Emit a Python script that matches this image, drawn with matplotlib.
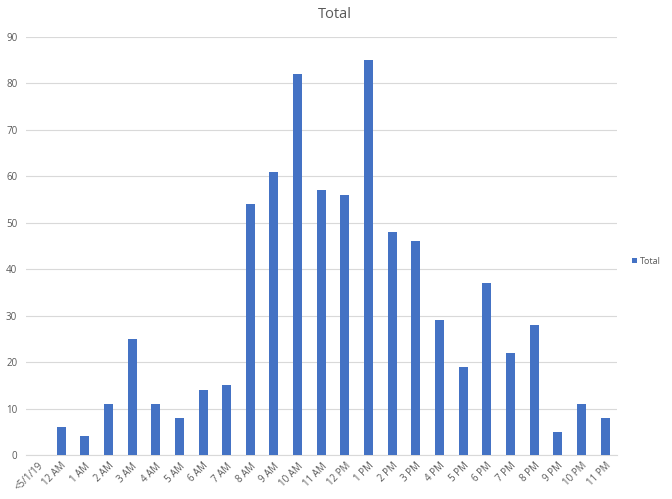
import matplotlib
matplotlib.use("Agg")
import matplotlib.pyplot as plt
import numpy as np

categories = ["<5/1/19", "12 AM", "1 AM", "2 AM", "3 AM", "4 AM", "5 AM", "6 AM", "7 AM",
              "8 AM", "9 AM", "10 AM", "11 AM", "12 PM", "1 PM", "2 PM", "3 PM", "4 PM",
              "5 PM", "6 PM", "7 PM", "8 PM", "9 PM", "10 PM", "11 PM"]
totals = [0, 6, 4, 11, 25, 11, 8, 14, 15, 54, 61, 82, 57, 56, 85, 48, 46, 29,
          19, 37, 22, 28, 5, 11, 8]

plt.rcParams['font.family'] = ['Open Sans', 'DejaVu Sans']
fig = plt.figure(figsize=(6.72, 4.99), dpi=100)
ax = fig.add_axes([25.6/672, 1-455/499, (617-25.6)/672, (455-37)/499])

x = np.arange(len(categories))
bar_color = "#4472C4"
ax.bar(x, totals, width=0.38, color=bar_color, label="Total", zorder=3)

ax.set_xlim(-0.5, len(categories)-0.5)
ax.set_ylim(0, 90)
ax.set_yticks(np.arange(0, 91, 10))
ax.yaxis.grid(True, color="#D9D9D9", linewidth=0.8, zorder=0)
ax.set_xticks(x)
ax.set_xticklabels(categories, rotation=45, ha="right", rotation_mode="anchor")
ax.tick_params(axis="both", length=0, labelsize=7, labelcolor="#595959")
ax.tick_params(axis="x", pad=4)
ax.tick_params(axis="y", pad=6)
for s in ["top", "right", "left"]:
    ax.spines[s].set_visible(False)
ax.spines["bottom"].set_color("#D9D9D9")

fig.text(335/672, 1-15/499, "Total", ha="center", va="center", fontsize=10.5, color="#595959")

leg = fig.legend(handles=ax.containers[0][:1], labels=["Total"], loc="center left",
                 bbox_to_anchor=(624/672, 1-261/499), frameon=False, fontsize=6.5,
                 handlelength=0.55, handleheight=0.55, handletextpad=0.3, labelcolor="#595959")

fig.savefig("out.png", dpi=100)
